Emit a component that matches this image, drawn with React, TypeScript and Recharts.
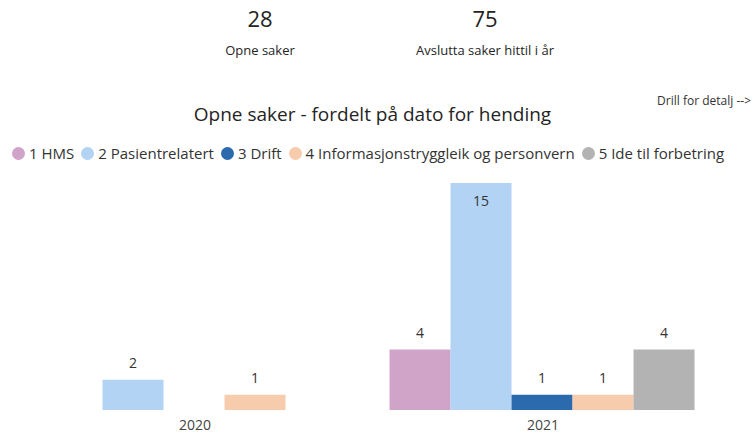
import React from "react";
import { BarChart, Bar, XAxis, YAxis, LabelList } from "recharts";

const years = ["2020", "2021"];
const seriesNames = [
  "1 HMS",
  "2 Pasientrelatert",
  "3 Drift",
  "4 Informasjonstryggleik og personvern",
  "5 Ide til forbetring",
];
const hms = [null, 4];
const pasient = [2, 15];
const drift = [null, 1];
const info = [1, 1];
const ide = [null, 4];
const colors = ["#D0A3C9", "#B3D3F5", "#2B6AAD", "#F6CCAC", "#B3B3B3"];

const seriesValues = [hms, pasient, drift, info, ide];
const keys = ["s1", "s2", "s3", "s4", "s5"];
const maxValue = 15;

const data = years.map((year, i) => {
  const row: Record<string, string | number | null> = { year };
  keys.forEach((k, j) => {
    row[k] = seriesValues[j][i];
  });
  return row;
});

const FONT = "'Open Sans', 'Noto Sans', sans-serif";

function ValueLabel(props: any) {
  const { x, y, width, value } = props;
  if (value === null || value === undefined || value === 0) return null;
  // the tallest bar has no room above it, so its label sits inside
  const inside = value >= maxValue;
  return (
    <text
      x={x + width / 2}
      y={inside ? y + 17 : y - 17}
      textAnchor="middle"
      dominantBaseline="central"
      fill="#333"
      fontSize={14}
      fontFamily={FONT}
    >
      {value}
    </text>
  );
}

export default function App() {
  return (
    <div
      style={{
        position: "absolute",
        left: 0,
        top: 0,
        width: 755,
        height: 436,
        background: "#fff",
        fontFamily: FONT,
        color: "#252423",
        overflow: "hidden",
      }}
    >
      <div style={{ position: "absolute", left: 160, width: 200, top: 3, textAlign: "center", fontSize: 22 }}>28</div>
      <div style={{ position: "absolute", left: 160, width: 200, top: 41, textAlign: "center", fontSize: 13 }}>Opne saker</div>
      <div style={{ position: "absolute", left: 385, width: 200, top: 3, textAlign: "center", fontSize: 22 }}>75</div>
      <div style={{ position: "absolute", left: 385, width: 200, top: 41, textAlign: "center", fontSize: 13 }}>
        Avslutta saker hittil i år
      </div>
      <div style={{ position: "absolute", right: 4, top: 92, fontSize: 12, color: "#333" }}>Drill for detalj --&gt;</div>
      <div style={{ position: "absolute", left: 0, width: 745, top: 101, textAlign: "center", fontSize: 19 }}>
        Opne saker - fordelt på dato for hending
      </div>
      <div
        style={{
          position: "absolute",
          left: 12,
          top: 143,
          display: "flex",
          alignItems: "center",
          fontSize: 15,
          color: "#333",
          whiteSpace: "nowrap",
        }}
      >
        {seriesNames.map((name, i) => (
          <div key={name} style={{ display: "flex", alignItems: "center", marginRight: 7 }}>
            <span
              style={{
                display: "inline-block",
                width: 13,
                height: 13,
                borderRadius: "50%",
                background: colors[i],
                marginRight: 4,
              }}
            />
            <span>{name}</span>
          </div>
        ))}
      </div>
      <div style={{ position: "absolute", left: 0, top: 0 }}>
        <BarChart
          width={755}
          height={436}
          data={data}
          margin={{ top: 183, right: 38, left: 21, bottom: 0 }}
          barCategoryGap="5.9%"
          barGap={0}
        >
          <XAxis
            dataKey="year"
            axisLine={false}
            tickLine={false}
            height={26}
            tick={{ fill: "#444", fontSize: 14, fontFamily: FONT }}
            dy={2}
          />
          <YAxis hide domain={[0, maxValue]} />
          {keys.map((k, i) => (
            <Bar key={k} dataKey={k} name={seriesNames[i]} fill={colors[i]} isAnimationActive={false}>
              <LabelList dataKey={k} content={ValueLabel} />
            </Bar>
          ))}
        </BarChart>
      </div>
    </div>
  );
}
